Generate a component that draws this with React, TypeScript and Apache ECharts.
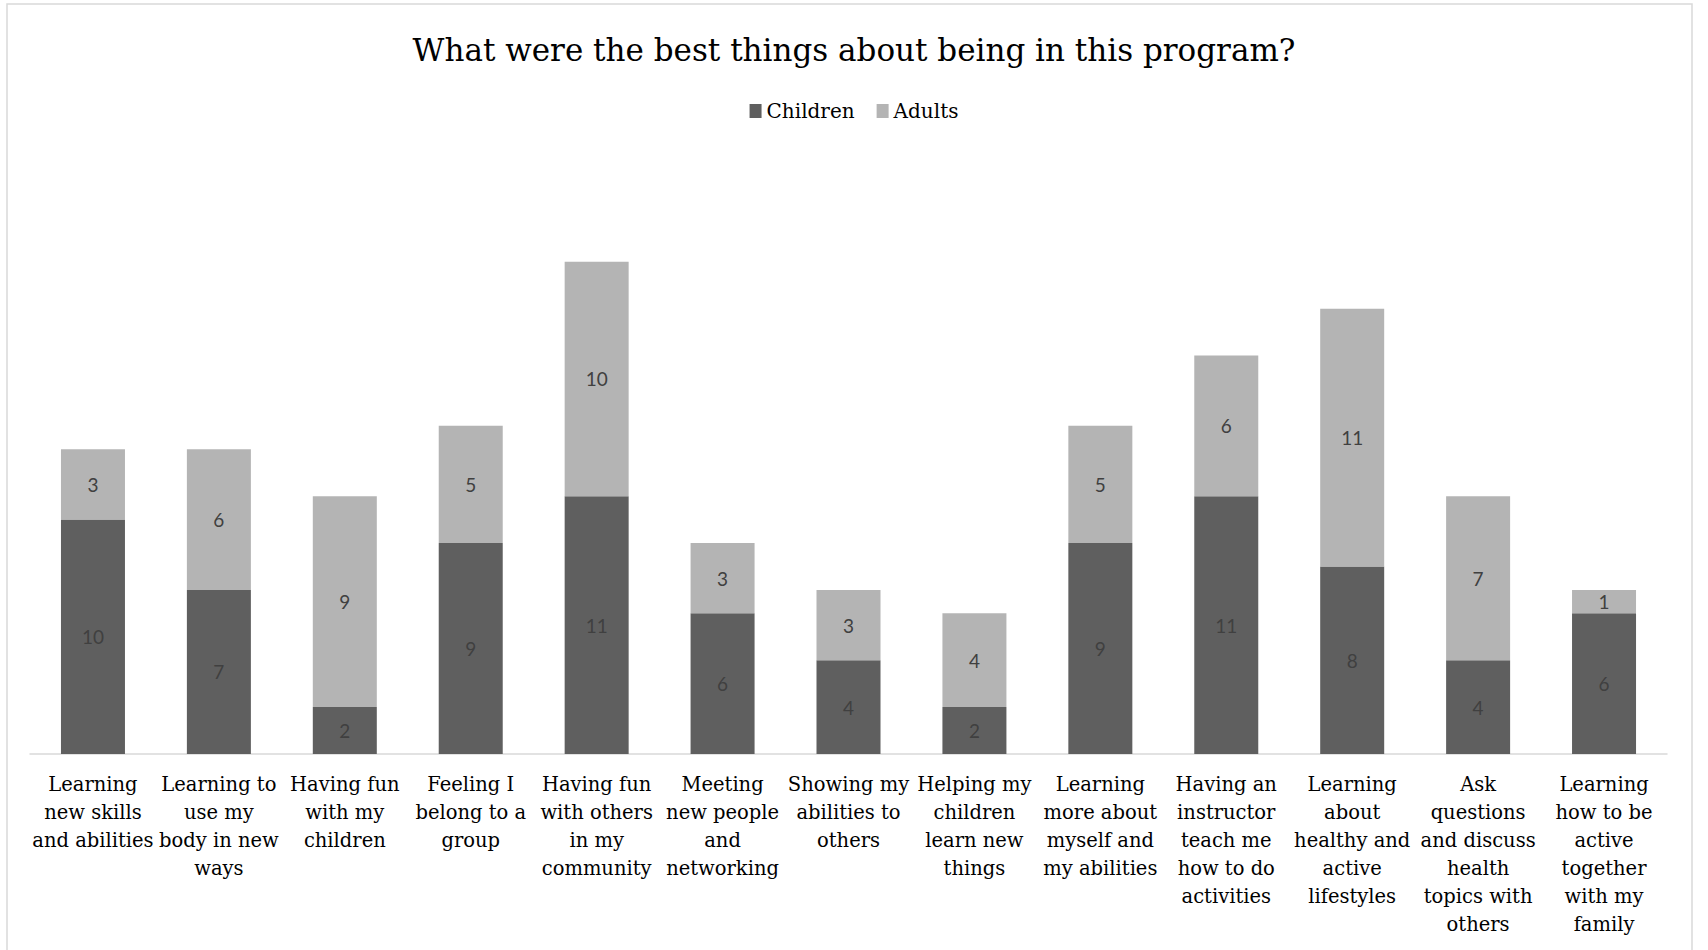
import React, { useEffect, useRef } from "react";
import * as echarts from "echarts";

const categories = [
  "Learning\nnew skills\nand abilities",
  "Learning to\nuse my\nbody in new\nways",
  "Having fun\nwith my\nchildren",
  "Feeling I\nbelong to a\ngroup",
  "Having fun\nwith others\nin my\ncommunity",
  "Meeting\nnew people\nand\nnetworking",
  "Showing my\nabilities to\nothers",
  "Helping my\nchildren\nlearn new\nthings",
  "Learning\nmore about\nmyself and\nmy abilities",
  "Having an\ninstructor\nteach me\nhow to do\nactivities",
  "Learning\nabout\nhealthy and\nactive\nlifestyles",
  "Ask\nquestions\nand discuss\nhealth\ntopics with\nothers",
  "Learning\nhow to be\nactive\ntogether\nwith my\nfamily",
];
const children = [10, 7, 2, 9, 11, 6, 4, 2, 9, 11, 8, 4, 6];
const adults = [3, 6, 9, 5, 10, 3, 3, 4, 5, 6, 11, 7, 1];

const serif = "'DejaVu Serif', 'Liberation Serif', serif";
const sans = "Lato, 'Open Sans', sans-serif";

export default function App() {
  const ref = useRef<HTMLDivElement>(null);
  useEffect(() => {
    if (!ref.current) return;
    const chart = echarts.init(ref.current, undefined, { renderer: "svg" });
    chart.setOption({
      animation: false,
      backgroundColor: "#ffffff",
      title: {
        text: "What were the best things about being in this program?",
        left: "center",
        top: 29,
        textStyle: { fontFamily: serif, fontSize: 31, fontWeight: "normal", color: "#000" },
      },
      legend: {
        top: 96,
        left: "center",
        itemWidth: 12,
        itemHeight: 14,
        itemGap: 22,
        icon: "rect",
        textStyle: { fontFamily: serif, fontSize: 20, color: "#000" },
        data: ["Children", "Adults"],
      },
      graphic: [
        {
          type: "rect",
          shape: { x: 7, y: 4, width: 1685, height: 960 },
          style: { fill: "none", stroke: "#d9d9d9", lineWidth: 1.5 },
          silent: true,
        },
      ],
      grid: { left: 30, right: 41, top: 168, bottom: 196, containLabel: false },
      xAxis: {
        type: "category",
        data: categories,
        axisLine: { lineStyle: { color: "#d9d9d9", width: 1.5 } },
        axisTick: { show: false },
        axisLabel: {
          interval: 0,
          margin: 16,
          fontFamily: serif,
          fontSize: 19.5,
          lineHeight: 28,
          color: "#000",
        },
      },
      yAxis: {
        type: "value",
        min: 0,
        max: 25,
        show: false,
        splitLine: { show: false },
      },
      series: [
        {
          name: "Children",
          type: "bar",
          stack: "total",
          barWidth: 64,
          data: children,
          itemStyle: { color: "#5f5f5f" },
          label: {
            show: true,
            position: "inside",
            color: "#404040",
            fontFamily: sans,
            fontSize: 19,
          },
        },
        {
          name: "Adults",
          type: "bar",
          stack: "total",
          barWidth: 64,
          data: adults,
          itemStyle: { color: "#b4b4b4" },
          label: {
            show: true,
            position: "inside",
            color: "#404040",
            fontFamily: sans,
            fontSize: 19,
          },
        },
      ],
    });
    return () => chart.dispose();
  }, []);
  return (
    <div
      ref={ref}
      style={{ position: "fixed", left: 0, top: 0, width: 1708, height: 950 }}
    />
  );
}
